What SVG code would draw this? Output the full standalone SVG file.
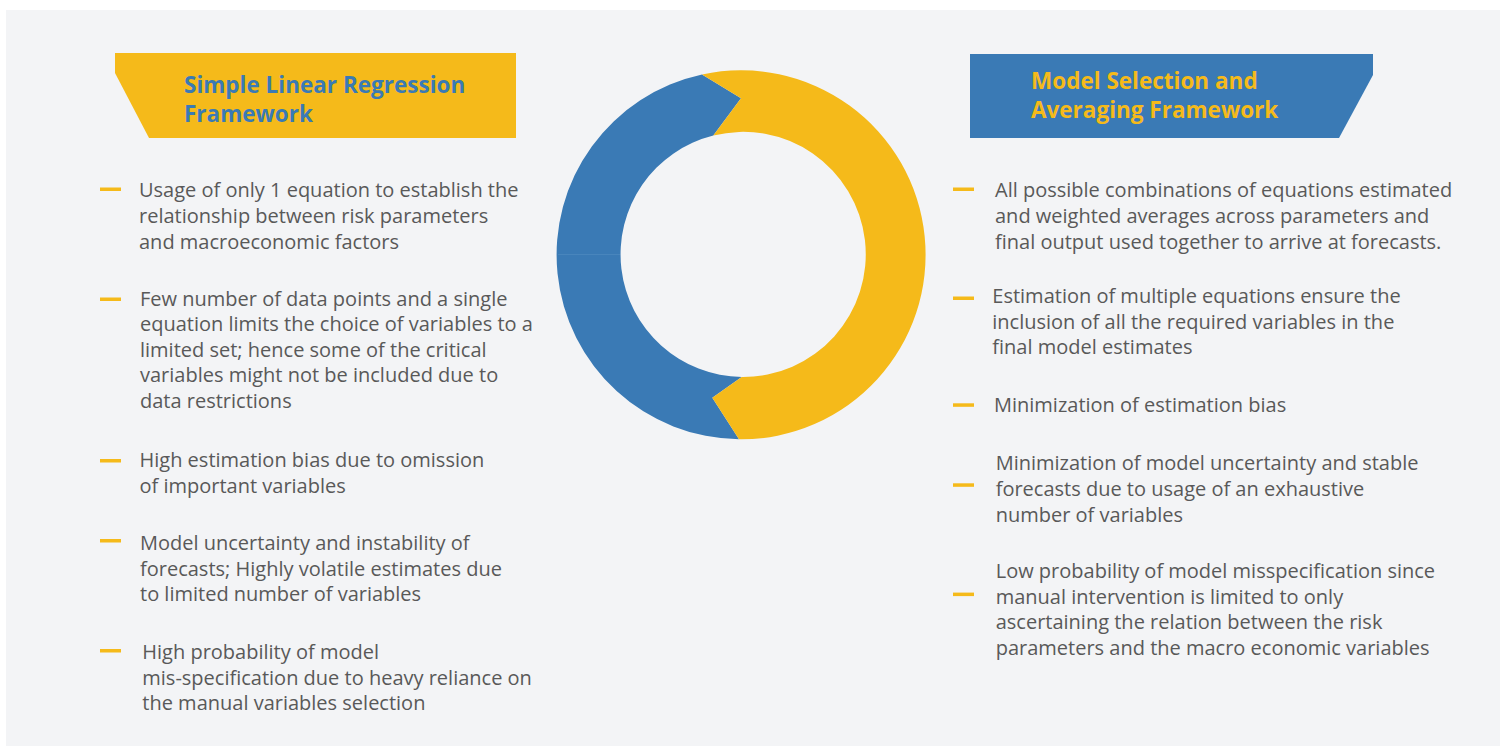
<svg xmlns="http://www.w3.org/2000/svg" width="1500" height="746" viewBox="0 0 1500 746">
<style>
.body{font-family:"Open Sans","Liberation Sans",sans-serif;font-size:20px;fill:#595959}
.title{font-family:"Open Sans","Liberation Sans",sans-serif;font-size:22.5px;font-weight:700}
.dash{fill:#F5BA1A}
.yel{fill:#F5BA1A}
.blu{fill:#3A7AB5}
</style>
<rect x="0" y="0" width="1500" height="746" fill="#FFFFFF"/>
<rect x="6" y="10" width="1494" height="736" fill="#F3F4F6"/>

<g id="ring">
<path class="blu" d="M702,74.5 A184.5,184.5 0 0 0 739,439.3 L712.3,397.7 L741.7,377 A122.6,122.6 0 0 1 713.3,135.5 L741,98.3 Z"/>
<path class="yel" d="M702,74.5 A184.5,184.5 0 1 1 739,439.3 L712.3,397.7 L741.7,377 A122.6,122.6 0 1 0 713.3,135.5 L741,98.3 Z"/>
<line x1="558" y1="254.5" x2="620" y2="254.5" stroke="#4F8AC0" stroke-width="1" opacity="0.7"/>
</g>

<g id="left-header">
<polygon class="yel" points="115,53 516,53 516,138 149,138 115,73"/>
<text class="title" fill="#3A7AB5"><tspan x="184" y="93">Simple Linear Regression</tspan><tspan x="184" y="121.5">Framework</tspan></text>
</g>

<g id="right-header">
<polygon class="blu" points="970,54 1373,54 1373,75 1339,138 970,138"/>
<text class="title" fill="#F5BA1A"><tspan x="1031" y="89">Model Selection and</tspan><tspan x="1031" y="118">Averaging Framework</tspan></text>
</g>

<g id="left-1">
<rect class="dash" x="100" y="187.5" width="21" height="3.5"/>
<text class="body"><tspan x="139" y="197">Usage of only 1 equation to establish the</tspan><tspan x="139" y="223">relationship between risk parameters</tspan><tspan x="139" y="249">and macroeconomic factors</tspan></text>
</g>
<g id="left-2">
<rect class="dash" x="100" y="297.5" width="21" height="3.5"/>
<text class="body"><tspan x="140" y="305.5">Few number of data points and a single</tspan><tspan x="140" y="331">equation limits the choice of variables to a</tspan><tspan x="140" y="356.5">limited set; hence some of the critical</tspan><tspan x="140" y="382">variables might not be  included due to</tspan><tspan x="140" y="407.5">data restrictions</tspan></text>
</g>
<g id="left-3">
<rect class="dash" x="100" y="459" width="21" height="3.5"/>
<text class="body"><tspan x="139.5" y="467.3">High estimation bias due to omission</tspan><tspan x="139.5" y="493.3">of important variables</tspan></text>
</g>
<g id="left-4">
<rect class="dash" x="100" y="539" width="21" height="3.5"/>
<text class="body"><tspan x="140" y="550">Model uncertainty and instability of</tspan><tspan x="140" y="575.5">forecasts; Highly volatile estimates due</tspan><tspan x="140" y="601">to limited number of variables</tspan></text>
</g>
<g id="left-5">
<rect class="dash" x="100" y="649" width="21" height="3.5"/>
<text class="body"><tspan x="142.3" y="659">High probability of model</tspan><tspan x="142.3" y="684.5">mis-specification due to heavy reliance on</tspan><tspan x="142.3" y="710">the manual variables selection</tspan></text>
</g>

<g id="right-1">
<rect class="dash" x="953" y="187.5" width="21" height="3.5"/>
<text class="body"><tspan x="995" y="197.3">All possible combinations of equations estimated</tspan><tspan x="995" y="223.3">and weighted averages across parameters and</tspan><tspan x="995" y="249.3">final output used together to arrive at forecasts.</tspan></text>
</g>
<g id="right-2">
<rect class="dash" x="953" y="296.5" width="21" height="3.5"/>
<text class="body"><tspan x="992.3" y="303.3">Estimation of multiple equations ensure the</tspan><tspan x="992.3" y="328.5">inclusion of all the required variables in the</tspan><tspan x="992.3" y="353.5">final model estimates</tspan></text>
</g>
<g id="right-3">
<rect class="dash" x="953" y="403.3" width="21" height="3.5"/>
<text class="body"><tspan x="994" y="411.7">Minimization of estimation bias</tspan></text>
</g>
<g id="right-4">
<rect class="dash" x="953" y="483.3" width="21" height="3.5"/>
<text class="body"><tspan x="995.7" y="470">Minimization of model uncertainty and stable</tspan><tspan x="995.7" y="495.7">forecasts due to usage of an exhaustive</tspan><tspan x="995.7" y="521.7">number of variables</tspan></text>
</g>
<g id="right-5">
<rect class="dash" x="953" y="592.6" width="21" height="3.5"/>
<text class="body"><tspan x="995.7" y="578.3">Low probability of model misspecification since</tspan><tspan x="995.7" y="603.5">manual intervention is limited to only</tspan><tspan x="995.7" y="629.3">ascertaining the relation between the risk</tspan><tspan x="995.7" y="655">parameters and the macro economic variables</tspan></text>
</g>
</svg>
